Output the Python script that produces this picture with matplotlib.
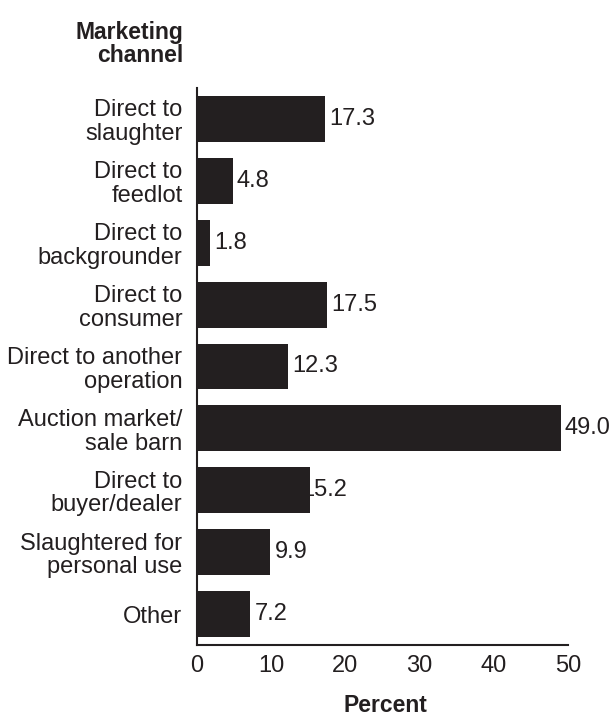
import matplotlib.pyplot as plt

plt.rcParams['font.family'] = ['Liberation Sans', 'DejaVu Sans']

channels = ['Direct to\nslaughter', 'Direct to\nfeedlot', 'Direct to\nbackgrounder',
            'Direct to\nconsumer', 'Direct to another\noperation', 'Auction market/\nsale barn',
            'Direct to\nbuyer/dealer', 'Slaughtered for\npersonal use', 'Other']
percent = [17.3, 4.8, 1.8, 17.5, 12.3, 49.0, 15.2, 9.9, 7.2]

dark = '#231f20'
fs = 17

fig = plt.figure(figsize=(6.13, 7.19), dpi=100)
ax = fig.add_axes([197/613, 1-645/719, 371/613, 557/719])

y = range(len(channels))
bars = ax.barh(y, percent, height=0.74, color=dark, zorder=2)

for i, v in enumerate(percent):
    # the 15.2 label sits partly behind its bar in the original
    off = -6 if i == 6 else 3
    ax.annotate(f'{v:.1f}', (v, i), xytext=(off, 0), textcoords='offset points',
                va='center', ha='left', fontsize=fs, color=dark, zorder=1)

ax.set_ylim(8.5, -0.5)
ax.set_xlim(0, 50)
ax.set_xticks([0, 10, 20, 30, 40, 50])
ax.set_yticks(list(y))
ax.set_yticklabels(channels, fontsize=fs, color=dark, linespacing=1.1)
ax.tick_params(axis='both', length=0, labelsize=fs, labelcolor=dark)
ax.tick_params(axis='y', pad=10.5)
ax.tick_params(axis='x', pad=7)

for s in ['top', 'right']:
    ax.spines[s].set_visible(False)
for s in ['left', 'bottom']:
    ax.spines[s].set_color(dark)
    ax.spines[s].set_linewidth(1.5)

fig.text(183/613, 1-44/719, 'Marketing\nchannel', ha='right', va='center',
         fontsize=16.5, fontweight='bold', color=dark, linespacing=1.05)
fig.text(385/613, 1-706/719, 'Percent', ha='center', va='center',
         fontsize=16.5, fontweight='bold', color=dark)

fig.savefig('out.png', dpi=100)
